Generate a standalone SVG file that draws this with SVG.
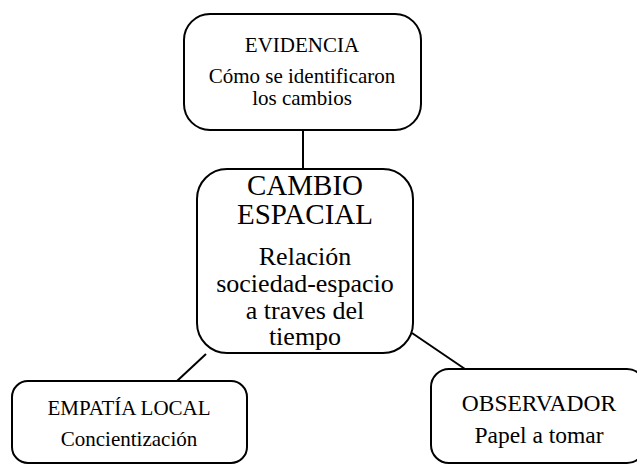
<svg xmlns="http://www.w3.org/2000/svg" width="637" height="466" viewBox="0 0 637 466">
<style>
.box{fill:#fff;stroke:#000;stroke-width:2}
.ln{stroke:#000;stroke-width:2;fill:none}
text{font-family:"Liberation Serif","Times New Roman",serif;fill:#000;text-anchor:middle}
</style>
<rect width="637" height="466" fill="#fff"/>
<g id="connectors">
<line class="ln" x1="303" y1="130" x2="303" y2="169"/>
<line class="ln" x1="206" y1="354" x2="177" y2="381"/>
<line class="ln" x1="412" y1="333" x2="465" y2="369"/>
</g>
<g id="evidencia">
<rect class="box" x="184" y="14" width="237" height="116" rx="26"/>
<text x="302" y="52" font-size="21">EVIDENCIA</text>
<text x="302" y="83" font-size="21">Cómo se identificaron</text>
<text x="302" y="105" font-size="21">los cambios</text>
</g>
<g id="cambio">
<rect class="box" x="197" y="169" width="216" height="184" rx="30"/>
<text x="305" y="195" font-size="29">CAMBIO</text>
<text x="305" y="224" font-size="29">ESPACIAL</text>
<text x="305" y="265" font-size="26">Relación</text>
<text x="305" y="292" font-size="26">sociedad-espacio</text>
<text x="305" y="319" font-size="26">a traves del</text>
<text x="305" y="345" font-size="26">tiempo</text>
</g>
<g id="empatia">
<rect class="box" x="12" y="381" width="235" height="82" rx="16"/>
<text x="129" y="415" font-size="21">EMPATÍA LOCAL</text>
<text x="129" y="446" font-size="21">Concientización</text>
</g>
<g id="observador">
<rect class="box" x="431" y="369" width="214" height="94" rx="18"/>
<text x="539" y="411" font-size="23.5">OBSERVADOR</text>
<text x="539" y="443" font-size="23.5">Papel a tomar</text>
</g>
</svg>
